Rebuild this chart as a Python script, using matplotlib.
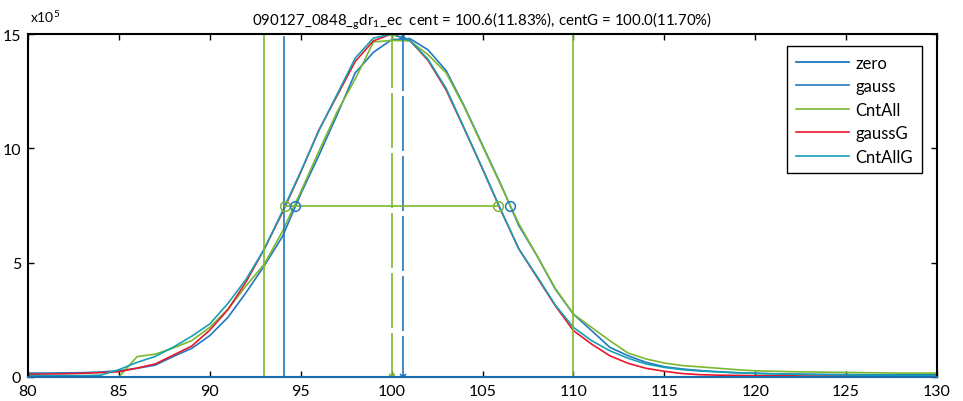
import matplotlib
matplotlib.use("Agg")
import matplotlib.pyplot as plt
import numpy as np

plt.rcParams['font.family'] = ['Lato', 'DejaVu Sans']
plt.rcParams['mathtext.fontset'] = 'custom'
plt.rcParams['mathtext.rm'] = 'Lato'
plt.rcParams['mathtext.it'] = 'Lato'

# ---- data (values in units of 1e5) ----
x = list(range(80, 131))

gauss = [0.17, 0.17, 0.18, 0.19, 0.22, 0.27, 0.38, 0.52, 0.90, 1.25,
         1.81, 2.61, 3.70, 4.87, 6.15, 8.00, 9.69, 11.46, 13.30, 14.20,
         14.75, 14.80, 14.31, 13.40, 11.84, 10.14, 8.44, 6.62, 5.30, 3.85,
         2.75, 2.03, 1.30, 0.93, 0.64, 0.45, 0.35, 0.28, 0.23, 0.19,
         0.16, 0.14, 0.13, 0.12, 0.11, 0.11, 0.10, 0.10, 0.10, 0.10, 0.10]

cntall = [0.0, 0.0, 0.0, 0.0, 0.0, 0.0, 0.89, 1.00, 1.27, 1.59,
          2.17, 2.97, 3.99, 4.94, 6.37, 8.10, 9.87, 11.59, 13.03, 14.65,
          14.72, 14.70, 14.10, 13.30, 11.80, 10.10, 8.40, 6.70, 5.30, 3.88,
          2.75, 2.17, 1.59, 1.05, 0.79, 0.61, 0.50, 0.44, 0.38, 0.32,
          0.27, 0.25, 0.23, 0.22, 0.21, 0.20, 0.19, 0.18, 0.17, 0.17, 0.17]

gaussG = [0.12, 0.13, 0.14, 0.16, 0.19, 0.23, 0.39, 0.57, 0.96, 1.35,
          2.05, 2.95, 4.17, 5.60, 7.20, 8.95, 10.80, 12.30, 13.80, 14.70,
          15.00, 14.72, 13.85, 12.55, 10.85, 9.10, 7.30, 5.60, 4.36, 3.12,
          2.03, 1.44, 0.93, 0.60, 0.38, 0.25, 0.15, 0.10, 0.08, 0.07,
          0.06, 0.05, 0.05, 0.04, 0.04, 0.04, 0.03, 0.03, 0.03, 0.03, 0.03]

cntallG = [0.06, 0.06, 0.06, 0.06, 0.08, 0.32, 0.64, 0.90, 1.31, 1.78,
           2.32, 3.22, 4.28, 5.60, 7.26, 8.98, 10.77, 12.36, 13.95, 14.82,
           15.00, 14.72, 13.90, 12.62, 10.87, 9.12, 7.33, 5.60, 4.40, 3.15,
           2.17, 1.59, 1.15, 0.82, 0.57, 0.42, 0.32, 0.26, 0.22, 0.18,
           0.16, 0.14, 0.12, 0.11, 0.10, 0.09, 0.08, 0.08, 0.07, 0.07, 0.07]

zero = [0.0] * len(x)

cent, centG = 100.6, 100.0
half_cent = [94.685, 106.515]
half_centG = [94.15, 105.85]
half_level = 7.5
peak_cent, peak_centG = 14.9, 15.05
range_green = [93.0, 110.0]
range_green_h = 15.0
range_blue = 94.08
range_blue_h = 14.85

title = r"090127_0848_$_{\mathrm{g}}$dr$_{\mathrm{1}}$_ec  cent = 100.6(11.83%), centG = 100.0(11.70%)"

C_BLUE = '#1f78c1'
C_GREEN = '#7cb82f'
C_RED = '#e8192c'
C_TEAL = '#17a0b4'

fig = plt.figure(figsize=(9.63, 4.02), dpi=100)
ax = fig.add_axes([28/963, 24/402, 909/963, 343/402])

ax.plot(x, zero, color=C_BLUE, lw=1.3, label='zero', clip_on=False, zorder=5)
ax.plot(x, gauss, color=C_BLUE, lw=1.2, label='gauss')
ax.plot(x, cntall, color=C_GREEN, lw=1.2, label='CntAll')
ax.plot(x, gaussG, color=C_RED, lw=1.2, label='gaussG')
ax.plot(x, cntallG, color=C_TEAL, lw=1.2, label='CntAllG')

# range lines
for xv in range_green:
    ax.plot([xv, xv], [0, range_green_h], color=C_GREEN, lw=1.2)
ax.plot([range_blue, range_blue], [0, range_blue_h], color=C_BLUE, lw=1.2)

# peak lines (dashed) with markers
dash = (0, (33, 3))
ax.plot([centG, centG], [peak_centG, 0], color=C_GREEN, lw=1.2, linestyle=dash)
ax.plot([centG, centG], [0, peak_centG], color=C_GREEN, lw=0, marker='x', ms=4, mew=1.2)
ax.plot([cent, cent], [peak_cent, 0], color=C_BLUE, lw=1.2, linestyle=dash)
ax.plot([cent, cent], [0, peak_cent], color=C_BLUE, lw=0, marker='x', ms=4, mew=1.2)

# half-max line and circles
ax.plot(half_centG, [half_level, half_level], color=C_GREEN, lw=1.2)
ax.plot(half_centG, [half_level, half_level], lw=0, marker='o', ms=7,
        mfc='none', mec=C_GREEN, mew=1.1)
ax.plot(half_cent, [half_level, half_level], lw=0, marker='o', ms=7,
        mfc='none', mec=C_BLUE, mew=1.1)

ax.set_xlim(80, 130)
ax.set_ylim(0, 15)
ax.set_xticks(range(80, 131, 5))
ax.set_yticks([0, 5, 10, 15])
ax.tick_params(direction='in', length=4, width=1, top=True, right=True,
               labelsize=11.5, pad=5)
for s in ax.spines.values():
    s.set_linewidth(1.5)

ax.set_title(title, fontsize=10.8, pad=7)
fig.text(30/963, 1 - 17/402, r"x10$^5$", fontsize=10, ha='left', va='center')

leg = ax.legend(loc='upper right', bbox_to_anchor=(893.7/909, 330.7/343),
                borderaxespad=0, fancybox=False, edgecolor='black',
                fontsize=12, handlelength=3.2, handletextpad=0.4,
                labelspacing=0.45, borderpad=0.5, framealpha=1)
leg.get_frame().set_linewidth(1.0)

fig.savefig('out.png', dpi=100)
